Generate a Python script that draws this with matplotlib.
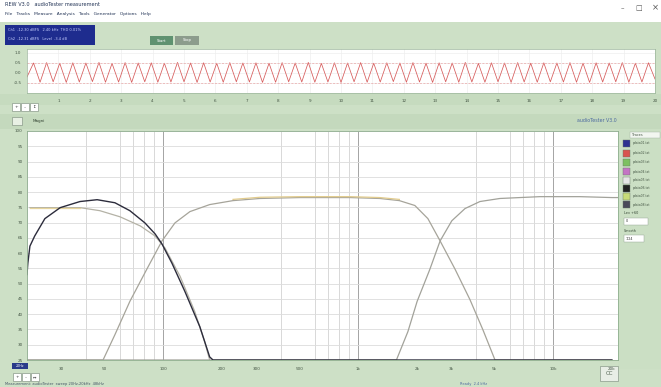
import numpy as np
import matplotlib
matplotlib.use("Agg")
import matplotlib.pyplot as plt
from matplotlib.patches import Rectangle
from matplotlib.ticker import NullFormatter, LogLocator

W, H = 661, 387

# ---------------- data ----------------
# scope (upper) trace: alternating extremes of the test tone, time axis 0..20
scope_wave = [-0.2, 0.50, -0.46, 0.52, -0.44, 0.49, -0.47, 0.51, -0.45, 0.50, -0.43, 0.53,
              -0.46, 0.48, -0.45, 0.52, -0.47, 0.50, -0.44, 0.51, -0.46, 0.49, -0.45, 0.53,
              -0.44, 0.50, -0.47, 0.51, -0.45, 0.49, -0.46, 0.52, -0.44, 0.50, -0.45, 0.51,
              -0.47, 0.49, -0.46, 0.52, -0.44, 0.50, -0.45, 0.53, -0.46, 0.48, -0.45, 0.51,
              -0.47, 0.50, -0.44, 0.52, -0.46, 0.49, -0.45, 0.51, -0.43, 0.50, -0.46, 0.52,
              -0.45, 0.49, -0.47, 0.51, -0.44, 0.50, -0.46, 0.53, -0.45, 0.48, -0.46, 0.51,
              -0.44, 0.50, -0.47, 0.52, -0.45, 0.49, -0.46, 0.51, -0.44, 0.50, -0.45, 0.52,
              -0.46, 0.49, -0.47, 0.51, -0.45, 0.50, -0.44, 0.52, -0.46, 0.49, -0.45, 0.51, -0.3]
scope_ticks = list(range(1, 21))
scope_yticks = [1.0, 0.5, 0.0, -0.5]

# main frequency response curves (Hz, dB)
woofer_f = [20, 20.2, 20.7, 21.9, 24.7, 29.6, 37.4, 45.8, 56.5, 67.4, 80.5, 90.8, 98.5,
            110.8, 129, 154, 173, 180, 20000]
woofer_db = [53, 56.7, 62.3, 65.6, 71.3, 74.9, 76.9, 77.5, 76.5, 73.9, 69.9, 66.3, 63.0,
             56.7, 47.5, 35.9, 26.0, 25.0, 25.0]

woofer2_f = [20.7, 29.6, 37.4, 47.3, 60, 76.3, 90.8, 102, 122, 145, 163, 173]
woofer2_db = [74.9, 74.9, 74.9, 73.9, 71.9, 68.9, 65.6, 61.7, 52.4, 40.9, 31.0, 25.0]

mid_f = [20, 49.1, 56.5, 67.4, 82.9, 98.5, 114.8, 137, 173, 228, 313, 502, 906, 1292,
         1625, 1952, 2277, 2630, 3140, 3740, 4360, 5030, 20000]
mid_db = [25, 25, 33.3, 44.2, 55.1, 64.0, 69.9, 73.6, 75.9, 77.2, 77.9, 78.2, 78.2, 77.9,
          77.2, 75.6, 71.3, 64.0, 54.7, 44.8, 34.9, 25.0, 25.0]

target_f = [228, 313, 502, 906, 1292, 1625]
target_db = [77.6, 78.3, 78.5, 78.5, 78.2, 77.6]

tweeter_f = [20, 1570, 1798, 2005, 2330, 2630, 3020, 3530, 4210, 5330, 8550, 13700, 20000, 21500]
tweeter_db = [25, 25, 34.3, 44.2, 54.7, 64.0, 70.6, 74.6, 76.9, 77.9, 78.5, 78.5, 78.2, 78.2]

freq_ticks = [30, 50, 100, 200, 300, 500, 1000, 2000, 3000, 5000, 10000, 20000]
freq_labels = ["30", "50", "100", "200", "300", "500", "1k", "2k", "3k", "5k", "10k", "20k"]
decade_lines = [100, 1000, 10000]
db_ticks = list(range(25, 101, 5))

legend_colors = ["#2d3190", "#d9534f", "#7cc060", "#c474c4", "#e6e6e6", "#222222",
                 "#c8dc78", "#4a4a5a"]
legend_names = ["pdata01.txt", "pdata02.txt", "pdata03.txt", "pdata04.txt",
                "pdata05.txt", "pdata06.txt", "pdata07.txt", "pdata08.txt"]

# ---------------- figure ----------------
GREEN = "#cde0c6"
fig = plt.figure(figsize=(W / 100, H / 100), dpi=100)
fig.patch.set_facecolor("white")


def rect(x, y, w, h, fc, ec="none", lw=0.5, z=-10):
    fig.patches.append(Rectangle((x / W, 1 - (y + h) / H), w / W, h / H,
                                 transform=fig.transFigure, facecolor=fc,
                                 edgecolor=ec, linewidth=lw, zorder=z))


def txt(x, y, s, size=3.5, color="#333333", ha="left", va="center", **kw):
    fig.text(x / W, 1 - y / H, s, fontsize=size, color=color, ha=ha, va=va, **kw)


# backgrounds
rect(0, 22, W, H - 22, GREEN, z=-20)
rect(0, 94, W, 11, "#c6dbbf", z=-15)
rect(0, 114, W, 15, "#c4d9bd", z=-15)
rect(618, 129, 43, 240, "#cbdfc4", z=-15)

# title / menu
txt(5, 5, "REW V3.0   audioTester measurement", size=3.6, color="#223355")
txt(5, 14, "File   Tracks   Measure   Analysis   Tools   Generator   Options   Help",
    size=3.2, color="#223355")
txt(622, 8, "\u2013", size=5, color="#555555", ha="center")
txt(639, 8, "\u25a1", size=5, color="#555555", ha="center")
txt(655, 8, "\u00d7", size=6, color="#555555", ha="center")

# blue info box and buttons
rect(5, 25, 90, 20, "#1e2c8e")
txt(8, 30, "Ch1  -12.30 dBFS   2.40 kHz  THD 0.01%", size=2.6, color="#c8d0ff")
txt(8, 39, "Ch2  -12.31 dBFS   Level  -3.4 dB", size=2.6, color="#c8d0ff")
rect(150, 36, 23, 9, "#5f9270")
txt(161.5, 40.5, "Start", size=2.8, color="white", ha="center")
rect(175, 36, 24, 9, "#8c9c8c")
txt(187, 40.5, "Stop", size=2.8, color="white", ha="center")

# small controls
for i, s in enumerate(["+", "\u2013", "\u2195"]):
    rect(12 + i * 9, 103, 8, 8, "white", ec="#8a9a8a")
    txt(16 + i * 9, 107, s, size=3.2, color="#333333", ha="center")
rect(12, 117, 10, 8, "#e8f0e4", ec="#8a9a8a")
txt(33, 121, "Magni", size=3.0, color="#334433")
txt(617, 121, "audioTester V3.0", size=3.4, color="#4d6aa0", ha="right")

# ---------------- scope axes ----------------
ax1 = fig.add_axes([27 / W, 1 - 93 / H, (655 - 27) / W, (93 - 49) / H])
ax1.set_zorder(2)
ax1.set_facecolor("white")
t = np.linspace(0, 20, len(scope_wave))
ax1.plot(t, scope_wave, color="#d65a5a", lw=0.55)
for v in (0.5, -0.5):
    ax1.axhline(v, color="#eba8a8", lw=0.5, ls=(0, (3, 2)))
ax1.set_xlim(0, 20)
ax1.set_ylim(-1.0, 1.2)
ax1.set_xticks(scope_ticks)
ax1.set_xticklabels([str(v) for v in scope_ticks])
ax1.set_yticks(scope_yticks)
ax1.set_yticklabels(["1.0", "0.5", "0.0", "-0.5"])
ax1.grid(True, color="#eeeeee", lw=0.5)
ax1.tick_params(labelsize=3.0, colors="#445544", length=0, pad=4)
for sp in ax1.spines.values():
    sp.set_color("#9ab49a")
    sp.set_linewidth(0.5)

# ---------------- main axes ----------------
ax = fig.add_axes([27 / W, 1 - 360 / H, (618 - 27) / W, (360 - 131) / H])
ax.set_zorder(2)
ax.set_facecolor("white")
ax.set_xscale("log")
ax.set_xlim(20, 21500)
ax.set_ylim(25, 100)

ax.set_xticks(freq_ticks)
ax.set_xticklabels(freq_labels)
ax.xaxis.set_minor_locator(LogLocator(base=10, subs=np.arange(1, 10)))
ax.xaxis.set_minor_formatter(NullFormatter())
ax.grid(False, which="major", axis="x")
ax.grid(True, which="minor", axis="x", color="#d2d2d2", lw=0.6)
for f in decade_lines:
    ax.axvline(f, color="#a4a4a4", lw=0.7, zorder=0.5)
ax.set_yticks(db_ticks)
ax.set_yticklabels([str(v) for v in db_ticks])
ax.grid(True, which="major", axis="y", color="#dcdcdc", lw=0.6)
ax.tick_params(which="both", labelsize=3.0, colors="#445544", length=0)
ax.tick_params(axis="x", pad=5)
ax.tick_params(axis="y", pad=3)
ax.set_axisbelow(True)

ax.plot(woofer2_f, woofer2_db, color="#b4b2a6", lw=0.9)
ax.plot(woofer2_f[:3], woofer2_db[:3], color="#e6d49c", lw=0.9)
ax.plot(mid_f, mid_db, color="#a6a49a", lw=0.9)
ax.plot(target_f, target_db, color="#e2cc8e", lw=0.9)
ax.plot(tweeter_f, tweeter_db, color="#a2a29a", lw=0.9)
ax.plot(woofer_f, woofer_db, color="#2c2c3c", lw=1.0)

for sp in ax.spines.values():
    sp.set_color("#8fae8f")
    sp.set_linewidth(0.6)

# ---------------- right panel ----------------
rect(630, 132, 30, 6, "#f2f6f0", ec="#a0b0a0", lw=0.3)
txt(632, 135, "Traces", size=2.4, color="#445544")
ys = [143, 153, 162, 172, 180, 188, 196, 205]
for yc, c, n in zip(ys, legend_colors, legend_names):
    rect(623, yc - 3.5, 7, 7, c, ec="#667766", lw=0.3)
    txt(633, yc, n, size=2.2, color="#445544")
txt(624, 213, "Lev +60", size=2.4, color="#334433")
rect(624, 218, 24, 7, "white", ec="#90a090", lw=0.3)
txt(626, 221.5, "0", size=2.4, color="#333333")
txt(624, 231, "Smooth", size=2.4, color="#334433")
rect(624, 235, 20, 7, "white", ec="#90a090", lw=0.3)
txt(626, 238.5, "1/24", size=2.4, color="#333333")

# ---------------- bottom area ----------------
rect(12, 363, 16, 6, "#2a3a8a")
txt(20, 366, "20Hz", size=2.3, color="white", ha="center")
for i, s in enumerate(["+", "\u2013", "\u2194"]):
    rect(13 + i * 9, 373, 8, 8, "white", ec="#8a9a8a")
    txt(17 + i * 9, 377, s, size=3.0, color="#333333", ha="center")
rect(600, 366, 18, 15, "#e8eee6", ec="#8a9a8a")
txt(609, 373.5, "CC", size=4, color="#556655", ha="center")
txt(5, 384, "Measurement: audioTester  sweep 20Hz-20kHz  48kHz", size=2.6, color="#445566")
txt(460, 384, "Ready  2.4 kHz", size=2.6, color="#4d6aa0")

fig.savefig("out.png", dpi=100)
